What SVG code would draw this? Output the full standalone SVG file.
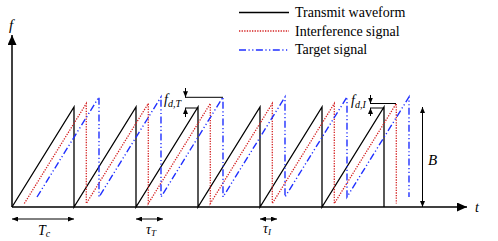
<svg xmlns="http://www.w3.org/2000/svg" width="498" height="241" viewBox="0 0 498 241">
<style>
.ax{stroke:#000;stroke-width:1.5;fill:none}
.tx{stroke:#000;stroke-width:1.3;fill:none;stroke-linejoin:miter}
.rx{stroke:#d42020;stroke-width:1.3;fill:none;stroke-dasharray:1.3 1.3}
.bx{stroke:#1f2fff;stroke-width:1.4;fill:none;stroke-dasharray:7 2.5 1.2 2.5 1.2 2.5}
.dim{stroke:#000;stroke-width:1;fill:none}
</style>
<defs>
<marker id="big" viewBox="0 0 10 10" refX="10" refY="5" markerWidth="10" markerHeight="9" markerUnits="userSpaceOnUse" preserveAspectRatio="none" orient="auto"><path d="M0,0 L10,5 L0,10 z" fill="#000"/></marker>
<marker id="sm" viewBox="0 0 10 10" refX="10" refY="5" markerWidth="6" markerHeight="5" markerUnits="userSpaceOnUse" preserveAspectRatio="none" orient="auto-start-reverse"><path d="M0,0 L10,5 L0,10 z" fill="#000"/></marker>
</defs>
<g id="axes">
<line class="ax" x1="12" y1="207" x2="12" y2="35" marker-end="url(#big)"/>
<line class="ax" x1="12" y1="207" x2="467" y2="207" marker-end="url(#big)"/>
<text x="9" y="30" font-family="Liberation Serif, serif" font-style="italic" font-size="15" fill="#000">f</text>
<text x="475" y="212" font-family="Liberation Serif, serif" font-style="italic" font-size="14" fill="#000">t</text>
</g>
<g id="legend" font-family="Liberation Serif, serif" font-size="14" fill="#000">
<line class="tx" x1="239" y1="12.5" x2="289" y2="12.5"/>
<text x="295" y="17">Transmit waveform</text>
<line class="rx" x1="239" y1="31" x2="289" y2="31"/>
<text x="295" y="35.5">Interference signal</text>
<line class="bx" x1="239" y1="50" x2="289" y2="50"/>
<text x="295" y="54">Target signal</text>
</g>
<g id="transmit">
<polyline class="tx" points="12,207 74,107 74,207 136,107 136,207 198,107 198,207 260,107 260,207 322,107 322,207 384,107 384,207"/>
</g>
<g id="interference">
<polyline class="rx" points="24.3,203.5 86.3,103.5 86.3,203.5 148.3,103.5 148.3,203.5 210.3,103.5 210.3,203.5 272.3,103.5 272.3,203.5 334.3,103.5 334.3,203.5 396.3,103.5 396.3,203.5"/>
</g>
<g id="target">
<polyline class="bx" points="37,197 99,97 99,197 161,97 161,197 223,97 223,197 285,97 285,197 347,97 347,197 409,97 409,197"/>
</g>
<g id="fdT" font-family="Liberation Serif, serif" font-style="italic" fill="#000">
<line class="dim" x1="185" y1="97.3" x2="223" y2="97.3"/>
<line class="dim" x1="185" y1="108" x2="198" y2="108"/>
<line class="dim" x1="185.5" y1="88" x2="185.5" y2="97.3" marker-end="url(#sm)"/>
<line class="dim" x1="185.5" y1="117" x2="185.5" y2="108" marker-end="url(#sm)"/>
<text x="164" y="104" font-size="14">f<tspan font-size="10" dy="3">d</tspan><tspan font-size="10">,T</tspan></text>
</g>
<g id="fdI" font-family="Liberation Serif, serif" font-style="italic" fill="#000">
<line class="dim" x1="370" y1="103.5" x2="396" y2="103.5"/>
<line class="dim" x1="370" y1="108" x2="384" y2="108"/>
<line class="dim" x1="370.5" y1="95" x2="370.5" y2="103.5" marker-end="url(#sm)"/>
<line class="dim" x1="370.5" y1="116" x2="370.5" y2="108" marker-end="url(#sm)"/>
<text x="351" y="105" font-size="14">f<tspan font-size="10" dy="3">d</tspan><tspan font-size="10">,I</tspan></text>
</g>
<g id="bandwidth" font-family="Liberation Serif, serif" font-style="italic" fill="#000">
<line class="dim" x1="422.5" y1="107" x2="422.5" y2="207" marker-start="url(#sm)" marker-end="url(#sm)"/>
<text x="428" y="165" font-size="15">B</text>
</g>
<g id="Tc" font-family="Liberation Serif, serif" font-style="italic" fill="#000">
<line class="dim" x1="12" y1="219" x2="74" y2="219" marker-start="url(#sm)" marker-end="url(#sm)"/>
<text x="38" y="235" font-size="14">T<tspan font-size="10" dy="2">c</tspan></text>
</g>
<g id="tauT" font-family="Liberation Serif, serif" font-style="italic" fill="#000">
<line class="dim" x1="136" y1="219" x2="163" y2="219" marker-start="url(#sm)" marker-end="url(#sm)"/>
<text x="146" y="234" font-size="14">τ<tspan font-size="9" dy="2">T</tspan></text>
</g>
<g id="tauI" font-family="Liberation Serif, serif" font-style="italic" fill="#000">
<line class="dim" x1="260" y1="219" x2="277" y2="219" marker-start="url(#sm)" marker-end="url(#sm)"/>
<text x="263" y="233" font-size="14">τ<tspan font-size="9" dy="2">I</tspan></text>
</g>
</svg>
